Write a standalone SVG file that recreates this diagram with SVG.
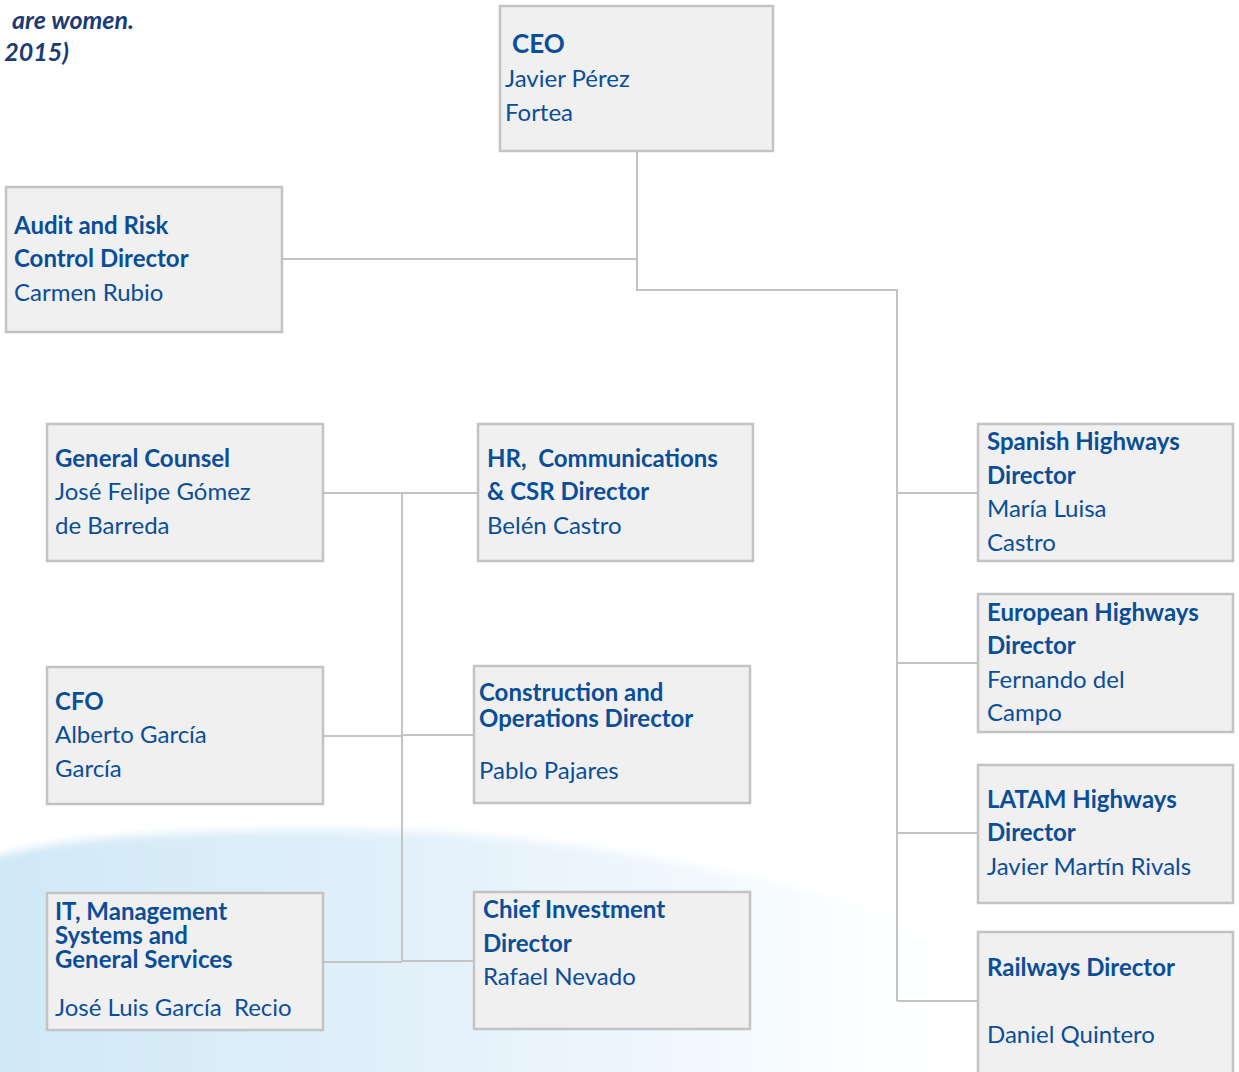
<svg xmlns="http://www.w3.org/2000/svg" width="1239" height="1072" viewBox="0 0 1239 1072">
<style>
.box{fill:#f0f0f0;stroke:#c3c3c3;stroke-width:2.5}
.t{font-family:Lato,"Open Sans",sans-serif;font-size:24px;fill:#0b4e98}
.b{font-weight:bold}
.note{font-family:Lato,"Open Sans",sans-serif;font-size:25px;font-weight:bold;font-style:italic;fill:#1b3a78}
#connectors line{stroke:#c3c3c3;stroke-width:2}
</style>
<defs>
<linearGradient id="bg" x1="0" y1="0" x2="1" y2="0">
<stop offset="0" stop-color="#cfe8f6"/>
<stop offset="0.45" stop-color="#e3f1fa"/>
<stop offset="0.8" stop-color="#f6fbfe"/>
<stop offset="1" stop-color="#ffffff" stop-opacity="0"/>
</linearGradient>
<filter id="soft" x="-5%" y="-5%" width="110%" height="110%"><feGaussianBlur stdDeviation="4"/></filter>
</defs>
<rect width="1239" height="1072" fill="#ffffff"/>
<path d="M-20,862 C40,840 140,831 330,830 C560,830 760,870 980,940 L980,1090 L-20,1090 Z" fill="url(#bg)" filter="url(#soft)"/>
<g id="note">
<text class="note" x="134" y="29" text-anchor="end">are women.</text>
<text class="note" x="69" y="61" text-anchor="end">2015)</text>
</g>
<g id="connectors">
<line x1="637" y1="151" x2="637" y2="290"/>
<line x1="282" y1="259" x2="637" y2="259"/>
<line x1="636" y1="290" x2="898" y2="290"/>
<line x1="897" y1="289" x2="897" y2="1001"/>
<line x1="897" y1="493" x2="978" y2="493"/>
<line x1="897" y1="663" x2="978" y2="663"/>
<line x1="897" y1="833" x2="978" y2="833"/>
<line x1="897" y1="1001" x2="978" y2="1001"/>
<line x1="402" y1="493" x2="402" y2="962"/>
<line x1="323" y1="493" x2="478" y2="493"/>
<line x1="323" y1="736" x2="402" y2="736"/>
<line x1="402" y1="735" x2="474" y2="735"/>
<line x1="323" y1="962" x2="402" y2="962"/>
<line x1="402" y1="961" x2="474" y2="961"/>
</g>
<g id="ceo">
<rect class="box" x="500" y="6" width="273" height="145"/>
<text class="t b" x="512" y="53" style="font-size:26px">CEO</text>
<text class="t" x="505" y="87">Javier Pérez</text>
<text class="t" x="505" y="121">Fortea</text>
</g>
<g id="audit">
<rect class="box" x="6" y="187" width="276" height="145"/>
<text class="t b" x="14" y="234">Audit and Risk</text>
<text class="t b" x="14" y="267">Control Director</text>
<text class="t" x="14" y="301">Carmen Rubio</text>
</g>
<g id="counsel">
<rect class="box" x="47" y="424" width="276" height="137"/>
<text class="t b" x="55" y="467">General Counsel</text>
<text class="t" x="55" y="500">José Felipe Gómez</text>
<text class="t" x="55" y="534">de Barreda</text>
</g>
<g id="hr">
<rect class="box" x="478" y="424" width="275" height="137"/>
<text class="t b" x="487" y="467" xml:space="preserve">HR,  Communications</text>
<text class="t b" x="487" y="500">&amp; CSR Director</text>
<text class="t" x="487" y="534">Belén Castro</text>
</g>
<g id="cfo">
<rect class="box" x="47" y="667" width="276" height="137"/>
<text class="t b" x="55" y="710">CFO</text>
<text class="t" x="55" y="743">Alberto García</text>
<text class="t" x="55" y="777">García</text>
</g>
<g id="construction">
<rect class="box" x="474" y="666" width="276" height="137"/>
<text class="t b" x="479" y="701">Construction and<tspan x="479" dy="26">Operations Director</tspan></text>
<text class="t" x="479" y="779">Pablo Pajares</text>
</g>
<g id="it">
<rect class="box" x="47" y="893" width="276" height="137"/>
<text class="t b" x="55" y="920">IT, Management<tspan x="55" dy="24">Systems and</tspan><tspan x="55" dy="24">General Services</tspan></text>
<text class="t" x="55" y="1016" xml:space="preserve">José Luis García  Recio</text>
</g>
<g id="cio">
<rect class="box" x="474" y="892" width="276" height="137"/>
<text class="t b" x="483" y="918">Chief Investment</text>
<text class="t b" x="483" y="952">Director</text>
<text class="t" x="483" y="985">Rafael Nevado</text>
</g>
<g id="spanish">
<rect class="box" x="978" y="424" width="255" height="137"/>
<text class="t b" x="987" y="450">Spanish Highways</text>
<text class="t b" x="987" y="484">Director</text>
<text class="t" x="987" y="517">María Luisa</text>
<text class="t" x="987" y="551">Castro</text>
</g>
<g id="european">
<rect class="box" x="978" y="594" width="255" height="138"/>
<text class="t b" x="987" y="621">European Highways</text>
<text class="t b" x="987" y="654">Director</text>
<text class="t" x="987" y="688">Fernando del</text>
<text class="t" x="987" y="721">Campo</text>
</g>
<g id="latam">
<rect class="box" x="978" y="765" width="255" height="138"/>
<text class="t b" x="987" y="808">LATAM Highways</text>
<text class="t b" x="987" y="841">Director</text>
<text class="t" x="987" y="875">Javier Martín Rivals</text>
</g>
<g id="railways">
<rect class="box" x="978" y="932" width="255" height="150"/>
<text class="t b" x="987" y="976">Railways Director</text>
<text class="t" x="987" y="1043">Daniel Quintero</text>
</g>
</svg>
